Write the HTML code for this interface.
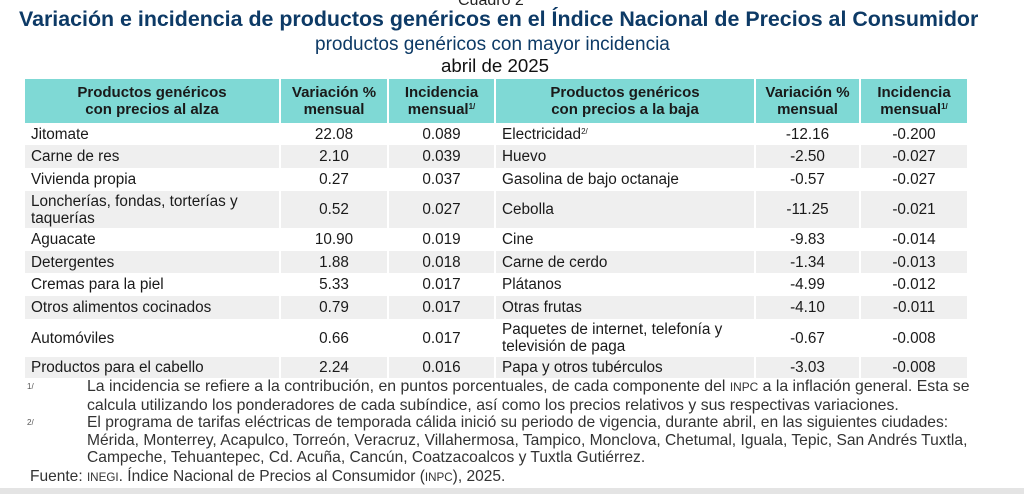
<!DOCTYPE html>
<html><head><meta charset="utf-8"><style>
body{margin:0;width:1024px;height:494px;background:#fff;overflow:hidden;font-family:"Liberation Sans",sans-serif;position:relative;color:#111}
.t{position:absolute;white-space:nowrap}
table{position:absolute;left:25px;top:79px;border-collapse:collapse;table-layout:fixed;font-size:15.3px}
th{background:#7fd9d5;font-weight:bold;font-size:15px;line-height:17px;height:44px;padding:0;border-right:2px solid #fff;color:#1a1a1a}
td{padding:0 6px;border-right:2px solid #fff;line-height:17px;color:#1a1a1a}
td.n{text-align:center}
tr.g td{background:#efefef}
sup{font-size:8px;vertical-align:5px;line-height:0}
.fn{position:absolute;font-size:16px;line-height:17.5px;color:#333;transform-origin:0 0;transform:scaleX(0.99);white-space:nowrap}
</style></head><body>
<div class="t" style="left:458px;top:-8px;font-size:16px;color:#222">Cuadro 2</div>
<div class="t" style="left:19px;top:7px;font-size:21.4px;font-weight:bold;color:#0d3a66">Variación e incidencia de productos genéricos en el Índice Nacional de Precios al Consumidor</div>
<div class="t" style="left:315px;top:34px;font-size:19px;color:#0d3a66">productos genéricos con mayor incidencia</div>
<div class="t" style="left:441px;top:55px;font-size:18.7px;color:#111">abril de 2025</div>
<table>
<colgroup><col style="width:255px"><col style="width:108px"><col style="width:107px"><col style="width:260px"><col style="width:105px"><col style="width:108px"></colgroup>
<tr><th>Productos genéricos<br>con precios al alza</th><th>Variación %<br>mensual</th><th>Incidencia<br>mensual<sup>1/</sup></th><th>Productos genéricos<br>con precios a la baja</th><th>Variación %<br>mensual</th><th>Incidencia<br>mensual<sup>1/</sup></th></tr>
<tr style="height:22px"><td>Jitomate</td><td class="n">22.08</td><td class="n">0.089</td><td>Electricidad<sup>2/</sup></td><td class="n">-12.16</td><td class="n">-0.200</td></tr>
<tr class="g" style="height:23px"><td>Carne de res</td><td class="n">2.10</td><td class="n">0.039</td><td>Huevo</td><td class="n">-2.50</td><td class="n">-0.027</td></tr>
<tr style="height:23px"><td>Vivienda propia</td><td class="n">0.27</td><td class="n">0.037</td><td>Gasolina de bajo octanaje</td><td class="n">-0.57</td><td class="n">-0.027</td></tr>
<tr class="g" style="height:37px"><td>Loncherías, fondas, torterías y<br>taquerías</td><td class="n">0.52</td><td class="n">0.027</td><td>Cebolla</td><td class="n">-11.25</td><td class="n">-0.021</td></tr>
<tr style="height:23px"><td>Aguacate</td><td class="n">10.90</td><td class="n">0.019</td><td>Cine</td><td class="n">-9.83</td><td class="n">-0.014</td></tr>
<tr class="g" style="height:22px"><td>Detergentes</td><td class="n">1.88</td><td class="n">0.018</td><td>Carne de cerdo</td><td class="n">-1.34</td><td class="n">-0.013</td></tr>
<tr style="height:23px"><td>Cremas para la piel</td><td class="n">5.33</td><td class="n">0.017</td><td>Plátanos</td><td class="n">-4.99</td><td class="n">-0.012</td></tr>
<tr class="g" style="height:23px"><td>Otros alimentos cocinados</td><td class="n">0.79</td><td class="n">0.017</td><td>Otras frutas</td><td class="n">-4.10</td><td class="n">-0.011</td></tr>
<tr style="height:38px"><td>Automóviles</td><td class="n">0.66</td><td class="n">0.017</td><td>Paquetes de internet, telefonía y<br>televisión de paga</td><td class="n">-0.67</td><td class="n">-0.008</td></tr>
<tr class="g" style="height:21px"><td>Productos para el cabello</td><td class="n">2.24</td><td class="n">0.016</td><td>Papa y otros tubérculos</td><td class="n">-3.03</td><td class="n">-0.008</td></tr>
</table>
<div class="t" style="left:27px;top:382px;font-size:8px;color:#555">1/</div>
<div class="fn" style="left:87px;top:378px">La incidencia se refiere a la contribución, en puntos porcentuales, de cada componente del <span style="font-size:12px">INPC</span> a la inflación general. Esta se<br>calcula utilizando los ponderadores de cada subíndice, así como los precios relativos y sus respectivas variaciones.</div>
<div class="t" style="left:27px;top:418px;font-size:8px;color:#555">2/</div>
<div class="fn" style="left:87px;top:414px;transform:scaleX(0.975)">El programa de tarifas eléctricas de temporada cálida inició su periodo de vigencia, durante abril, en las siguientes ciudades:<br>Mérida, Monterrey, Acapulco, Torreón, Veracruz, Villahermosa, Tampico, Monclova, Chetumal, Iguala, Tepic, San Andrés Tuxtla,<br>Campeche, Tehuantepec, Cd. Acuña, Cancún, Coatzacoalcos y Tuxtla Gutiérrez.</div>
<div class="fn" style="left:30px;top:468px;transform:scaleX(0.97)">Fuente: <span style="font-size:12px">INEGI</span>. Índice Nacional de Precios al Consumidor (<span style="font-size:12px">INPC</span>), 2025.</div>
<div style="position:absolute;left:0;top:488px;width:1024px;height:6px;background:#e4e4e4"></div>
</body></html>
